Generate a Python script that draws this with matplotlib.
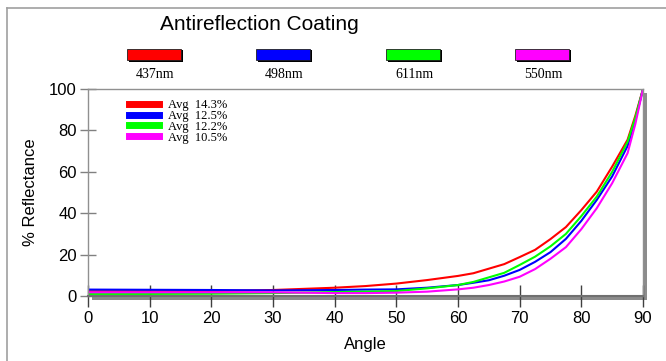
import matplotlib.pyplot as plt
from matplotlib.patches import Rectangle
from matplotlib.lines import Line2D

angles = [0, 10, 20, 30, 40, 45, 50, 55, 60, 62.5, 65, 67.5, 70, 72.5,
          75, 77.5, 80, 82.5, 85, 87.5, 88.75, 90]
r_437 = [2.3, 2.3, 2.4, 2.9, 4.0, 4.8, 6.0, 7.7, 9.7, 11.0, 13.2, 15.4, 18.8, 22.3,
         27.5, 33.3, 41.5, 50.4, 62.5, 75.5, 87.0, 100]
r_498 = [3.1, 3.0, 2.9, 2.7, 2.9, 3.1, 3.2, 4.0, 5.3, 6.4, 7.6, 9.8, 12.6, 16.5,
         21.2, 27.6, 36.3, 46.4, 57.8, 72.5, 85.0, 100]
r_611 = [1.0, 1.0, 1.1, 1.4, 1.9, 2.1, 2.4, 3.7, 5.3, 6.8, 9.0, 11.2, 15.0, 19.0,
         24.0, 30.0, 38.6, 48.0, 60.0, 74.5, 86.0, 100]
r_550 = [1.8, 1.8, 1.8, 1.8, 1.4, 1.4, 1.6, 2.1, 3.2, 4.0, 5.3, 7.0, 9.3, 13.0,
         18.0, 23.6, 32.3, 42.4, 54.5, 69.0, 83.0, 100]

wavelengths = ["437nm", "498nm", "611nm", "550nm"]
averages = ["Avg  14.3%", "Avg  12.5%", "Avg  12.2%", "Avg  10.5%"]
colors = ["#ff0000", "#0000ff", "#00ff00", "#ff00ff"]
series = [r_437, r_498, r_611, r_550]

W, H = 666, 361
fig = plt.figure(figsize=(W / 100, H / 100), dpi=100)
plt.rcParams['font.family'] = ['Liberation Sans', 'DejaVu Sans']


def px(x0, y0, x1, y1):
    # pixel box (top-down) -> figure fraction rect
    return [x0 / W, 1 - y1 / H, (x1 - x0) / W, (y1 - y0) / H]


# outer frame (left and top edges)
fig.add_artist(Line2D([7 / W, 7 / W], [0, 1 - 8 / H], color="#a0a0a0", lw=1.2))
fig.add_artist(Line2D([7 / W, 1], [1 - 8 / H, 1 - 8 / H], color="#a0a0a0", lw=1.2))

# drop shadow behind the plot box
sx, sy, sw, sh = px(92, 93, 647, 300)
fig.add_artist(Rectangle((sx, sy), sw, sh, transform=fig.transFigure,
                         facecolor="#8c8c8c", edgecolor="none", zorder=0))

ax = fig.add_axes(px(88, 89, 643, 296), zorder=1)
ax.set_facecolor("white")

for vals, c in zip(series, colors):
    ax.plot(angles, vals, color=c, lw=1.5)

ax.set_xlim(0, 90)
ax.set_ylim(0, 100)
ax.set_xticks(range(0, 91, 10))
ax.set_yticks(range(0, 101, 20))
ax.tick_params(axis="x", direction="inout", length=16, width=1, color="#404040",
               labelsize=12, pad=3)
ax.tick_params(axis="y", direction="inout", length=12, width=1, color="#808080",
               labelsize=12, pad=2)
for s in ["left", "top", "right"]:
    ax.spines[s].set_color("#909090")
    ax.spines[s].set_linewidth(1)
ax.spines["bottom"].set_color("#707070")
ax.spines["bottom"].set_linewidth(1.5)

ax.set_xlabel("Angle", fontsize=12, labelpad=8)
ax.set_ylabel("% Reflectance", fontsize=12, labelpad=8)

# inner legend with averages
handles = [Line2D([], [], color=c, lw=5) for c in colors]
ax.legend(handles, averages, loc="upper left", bbox_to_anchor=(0.074, 0.95),
          frameon=False, handlelength=2.4, handletextpad=0.75,
          labelspacing=-0.1, borderpad=0, borderaxespad=0,
          prop={"family": "Liberation Serif", "size": 9})

# title and wavelength key above the plot
fig.text(259 / W, 1 - 24 / H, "Antireflection Coating", ha="center", va="center",
         fontsize=15)
key_x = [127, 256, 386, 515]
for x0, c, lab in zip(key_x, colors, wavelengths):
    bx, by, bw, bh = px(x0 + 1.5, 50.5, x0 + 55.5, 61.5)
    fig.add_artist(Rectangle((bx, by), bw, bh, transform=fig.transFigure,
                             facecolor="black", edgecolor="none"))
    bx, by, bw, bh = px(x0, 49, x0 + 54, 60)
    fig.add_artist(Rectangle((bx, by), bw, bh, transform=fig.transFigure,
                             facecolor=c, edgecolor="#202020", lw=0.6))
    fig.text((x0 + 28) / W, 1 - 74 / H, lab, ha="center", va="center",
             fontsize=10, family="Liberation Serif")

plt.savefig("out.png", dpi=100)
